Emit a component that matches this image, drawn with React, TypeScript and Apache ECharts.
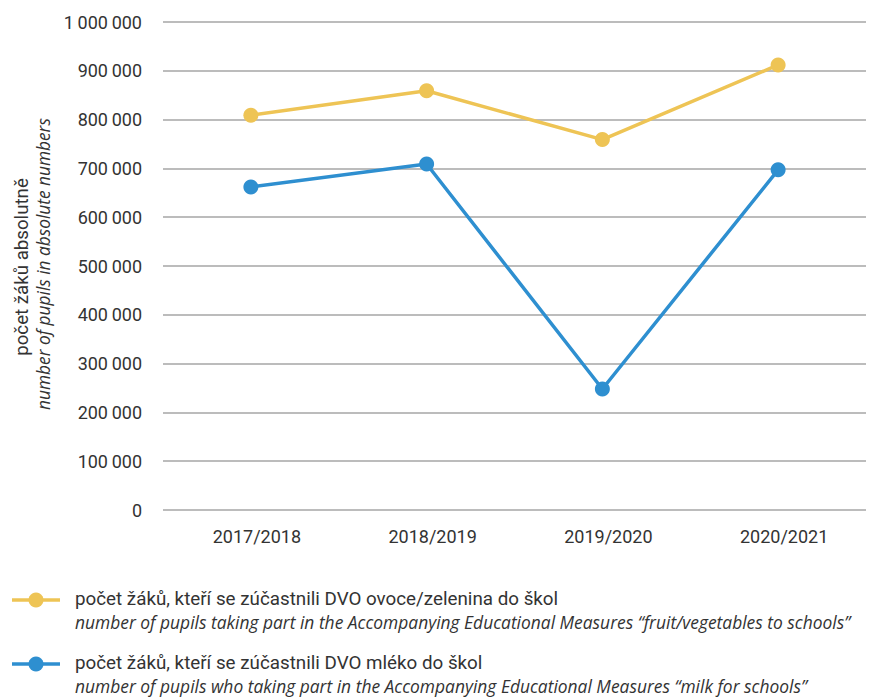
import React, { useEffect, useRef } from "react";
import * as echarts from "echarts";

const categories = ["2017/2018", "2018/2019", "2019/2020", "2020/2021"];
const fruitValues = [809000, 859000, 759000, 912000];
const milkValues = [662000, 709000, 248000, 697000];
const yTicks = [0, 100000, 200000, 300000, 400000, 500000, 600000, 700000, 800000, 900000, 1000000];

const seriesNamesCz = [
  "počet žáků, kteří se zúčastnili DVO ovoce/zelenina do škol",
  "počet žáků, kteří se zúčastnili DVO mléko do škol",
];
const seriesNamesEn = [
  "number of pupils taking part in the Accompanying Educational Measures “fruit/vegetables to schools”",
  "number of pupils who taking part in the Accompanying Educational Measures “milk for schools”",
];
const yTitleCz = "počet žáků absolutně";
const yTitleEn = "number of pupils in absolute numbers";

const YELLOW = "#EEC455";
const BLUE = "#2E8FD0";
const TEXT = "#333333";
const FONT = "Roboto, 'Noto Sans', sans-serif";
const FONT_IT = "'Open Sans', Roboto, sans-serif";

function fmt(v: number): string {
  const s = String(v);
  return s.replace(/\B(?=(\d{3})+(?!\d))/g, "\u2009");
}

export default function App() {
  const ref = useRef<HTMLDivElement>(null);
  useEffect(() => {
    const chart = echarts.init(ref.current!, null, { renderer: "svg" });
    const colors = [YELLOW, BLUE];
    const legendGraphics: any[] = [];
    [0, 1].forEach((i) => {
      const y = 600 + i * 64;
      legendGraphics.push(
        { type: "line", shape: { x1: 12, y1: y, x2: 60, y2: y }, style: { stroke: colors[i], lineWidth: 3.5 } },
        { type: "circle", shape: { cx: 36, cy: y, r: 7.5 }, style: { fill: colors[i] } },
        { type: "text", x: 75, y: y - 1, style: { text: seriesNamesCz[i], font: `18.8px ${FONT}`, fill: TEXT, verticalAlign: "middle" } },
        { type: "text", x: 75, y: y + 21.5, style: { text: seriesNamesEn[i], font: `italic 17.4px ${FONT_IT}`, fill: TEXT, verticalAlign: "middle" } }
      );
    });
    chart.setOption({
      animation: false,
      grid: { left: 163, right: 4, top: 22, bottom: 187, containLabel: false },
      xAxis: {
        type: "category",
        data: categories,
        boundaryGap: true,
        axisLine: { show: false },
        axisTick: { show: false },
        axisLabel: { color: TEXT, fontSize: 18, fontFamily: FONT, margin: 17, padding: [0, 0, 0, 12] },
      },
      yAxis: {
        type: "value",
        min: 0,
        max: 1000000,
        interval: 100000,
        axisLine: { show: false },
        axisTick: { show: false },
        splitLine: { lineStyle: { color: "#A6A6A6", width: 1.5 } },
        axisLabel: {
          color: TEXT,
          fontSize: 18,
          fontFamily: FONT,
          margin: 21,
          formatter: (v: number) => (yTicks.includes(v) ? fmt(v) : ""),
        },
      },
      series: [
        {
          name: seriesNamesCz[0],
          type: "line",
          data: fruitValues,
          color: YELLOW,
          lineStyle: { width: 3.5 },
          symbol: "circle",
          symbolSize: 15,
        },
        {
          name: seriesNamesCz[1],
          type: "line",
          data: milkValues,
          color: BLUE,
          lineStyle: { width: 3.5 },
          symbol: "circle",
          symbolSize: 15,
        },
      ],
      graphic: [
        {
          type: "text",
          x: 22,
          y: 267,
          rotation: Math.PI / 2,
          style: { text: yTitleCz, font: `18.7px ${FONT}`, fill: TEXT, align: "center", verticalAlign: "middle" },
        },
        {
          type: "text",
          x: 43,
          y: 264,
          rotation: Math.PI / 2,
          style: { text: yTitleEn, font: `italic 17.3px ${FONT_IT}`, fill: TEXT, align: "center", verticalAlign: "middle" },
        },
        ...legendGraphics,
      ],
    });
    return () => chart.dispose();
  }, []);
  return <div ref={ref} style={{ width: 870, height: 697, position: "absolute", left: 0, top: 0 }} />;
}
